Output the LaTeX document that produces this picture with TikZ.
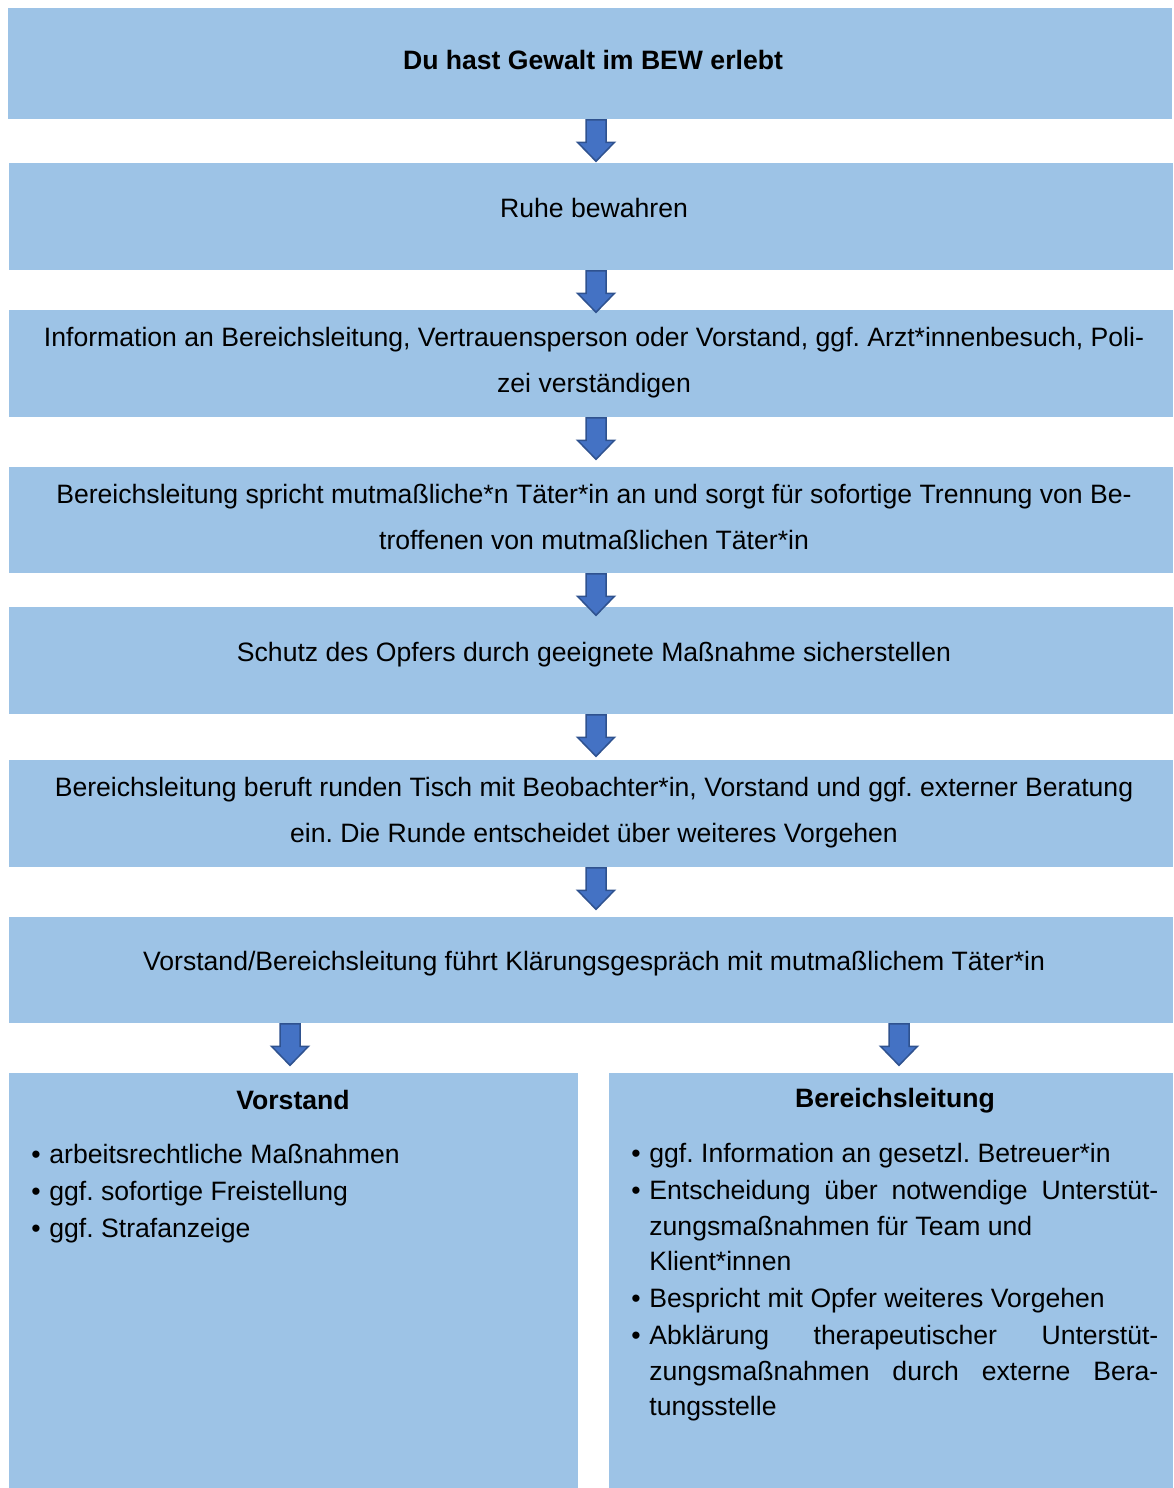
\documentclass[tikz,border=0pt]{standalone}
\usepackage{fontspec}
\setmainfont{Liberation Sans}
\usetikzlibrary{calc}

\definecolor{boxblue}{RGB}{157,195,230}
\definecolor{arrblue}{RGB}{68,114,196}
\definecolor{arrline}{RGB}{47,82,143}

\newcommand\downblock[1]{\draw [blockarr] ($#1+(-10,0)$) -- ++(0,22.5) -- ++(-8.5,0) -- ++(18.5,19) -- ++(18.5,-19) -- ++(-8.5,0) -- ++(0,-22.5) -- cycle;}
\newcommand\bul{\makebox[9pt][l]{\textbullet}}
\newcommand\hang{\hspace*{9pt}}

\begin{document}
\frenchspacing
\begin{tikzpicture}[x=0.5pt,y=-0.5pt,
  box/.style={fill=boxblue, inner sep=0pt, anchor=north west, minimum width=582pt},
  txt/.style={inner sep=0pt, align=center, font=\fontsize{13.3}{23}\selectfont},
  lst/.style={inner sep=0pt, align=left, anchor=north west, font=\fontsize{13.3}{17.75}\selectfont},
  blockarr/.style={fill=arrblue, draw=arrline, line width=0.75pt, line join=miter}]
  \useasboundingbox (0,0) rectangle (1173,1488);
      \coordinate (ax) at (596,0);
  \coordinate (axl) at (290,0);
  \coordinate (axr) at (899,0);
  \node [box, minimum height=55.5pt] (b1) at (8,8) {};
  \node [box, minimum height=53.5pt] (b2) at (9,163) {};
  \node [box, minimum height=53.5pt] (b3) at (9,310) {};
  \node [box, minimum height=53pt] (b4) at (9,467) {};
  \node [box, minimum height=53.5pt] (b5) at (9,607) {};
  \node [box, minimum height=53.5pt] (b6) at (9,760) {};
  \node [box, minimum height=53pt] (b7) at (9,917) {};
  \node [box, minimum height=207.5pt, minimum width=284.5pt] (bv) at (9,1073) {};
  \node [box, minimum height=207.5pt, minimum width=282pt] (bb) at (609,1073) {};
  \downblock{(b1.south -| ax)}
  \downblock{(b2.south -| ax)}
  \downblock{(b3.south -| ax)}
  \downblock{(b4.south -| ax)}
  \downblock{(b5.south -| ax)}
  \downblock{(b6.south -| ax)}
  \downblock{(b7.south -| axl)}
  \downblock{(b7.south -| axr)}
  \node [txt] (t1) at (593,60) {\textbf{Du hast Gewalt im BEW erlebt}};
   \node [txt] (t2) at (594,208) {Ruhe bewahren};
   \node [txt] (t3) at (594,362.5) {Information an Bereichsleitung, Vertrauensperson oder Vorstand, ggf. Arzt*innenbesuch, Poli-\\zei verständigen};
   \node [txt] (t4) at (594,516.5) {Bereichsleitung spricht mutmaßliche*n Täter*in an und sorgt für sofortige Trennung von Be-\\troffenen von mutmaßlichen Täter*in};
   \node [txt] (t5) at (594,654.5) {Schutz des Opfers durch geeignete Maßnahme sicherstellen};
   \node [txt] (t6) at (594,812.5) {Bereichsleitung beruft runden Tisch mit Beobachter*in, Vorstand und ggf. externer Beratung\\ein. Die Runde entscheidet über weiteres Vorgehen};
   \node [txt] (t7) at (594,963.5) {Vorstand/Bereichsleitung führt Klärungsgespräch mit mutmaßlichem Täter*in};
   \node [txt] (hv) at (293,1099.5) {\textbf{Vorstand}};
   \node [txt] (hb) at (895,1101) {\textbf{Bereichsleitung}};
  \node [lst] (lv) at (31,1144) {\bul arbeitsrechtliche Maßnahmen\\[0.75pt]
    \bul ggf. sofortige Freistellung\\[0.75pt]
    \bul ggf. Strafanzeige};
  \node [lst] (lb) at (631,1143) {\bul ggf. Information an gesetzl. Betreuer*in\\[0.75pt]
    \bul\makebox[254.5pt][s]{Entscheidung über notwendige Unterstüt-}\\
    \hang zungsmaßnahmen für Team und\\
    \hang Klient*innen\\[0.75pt]
    \bul Bespricht mit Opfer weiteres Vorgehen\\[0.75pt]
    \bul\makebox[254.5pt][s]{Abklärung therapeutischer Unterstüt-}\\
    \hang\makebox[254.5pt][s]{zungsmaßnahmen durch externe Bera-}\\
    \hang tungsstelle};
    \end{tikzpicture}
\end{document}
